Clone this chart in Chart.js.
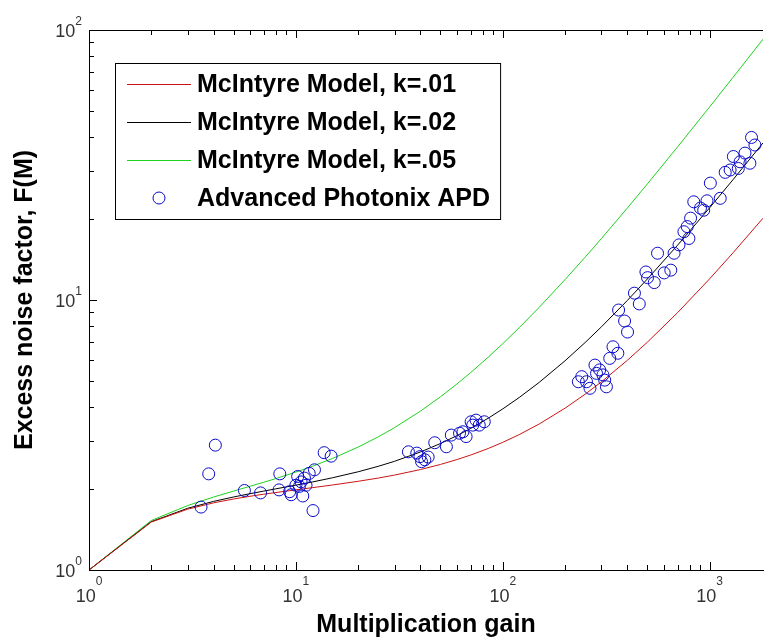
<!DOCTYPE html>
<html>
<head>
<meta charset="utf-8">
<script src="https://cdn.jsdelivr.net/npm/chart.js@4.4.1/dist/chart.umd.min.js"></script>
<style>
  html, body { margin: 0; padding: 0; background: #fff; }
  #wrap { width: 770px; height: 643px; }
</style>
</head>
<body>
<div id="wrap"><canvas id="noise-chart"></canvas></div>
<script>
// McIntyre model, F(M) sampled along the gain axis
const modelGain = [1, 2, 3, 4, 5, 6, 7, 8, 10, 12, 15, 20, 25, 30, 40, 50, 60, 70, 85, 100, 120, 150, 200, 250, 300, 400, 500, 700, 1000, 1300, 1811];
const modelK01 = [1.00, 1.505, 1.680, 1.773, 1.832, 1.875, 1.909, 1.936, 1.981, 2.018, 2.064, 2.131, 2.190, 2.247, 2.355, 2.460, 2.564, 2.666, 2.818, 2.970, 3.172, 3.473, 3.975, 4.476, 4.977, 5.978, 6.978, 8.979, 11.98, 14.98, 20.09];
const modelK02 = [1.00, 1.510, 1.693, 1.795, 1.864, 1.917, 1.960, 1.998, 2.062, 2.118, 2.195, 2.311, 2.421, 2.527, 2.736, 2.940, 3.144, 3.346, 3.648, 3.950, 4.352, 4.953, 5.955, 6.956, 7.957, 9.958, 11.96, 15.96, 21.96, 27.96, 38.18];
const modelK05 = [1.00, 1.525, 1.733, 1.863, 1.960, 2.042, 2.114, 2.181, 2.305, 2.421, 2.587, 2.853, 3.112, 3.368, 3.876, 4.381, 4.884, 5.386, 6.139, 6.891, 7.892, 9.394, 11.90, 14.40, 16.90, 21.90, 26.90, 36.90, 51.90, 66.90, 92.45];

// measured excess noise of the Advanced Photonix APD
const apdGain = [
  3.48, 3.79, 4.08, 5.64, 6.75, 8.36, 8.29, 9.33, 9.49, 10.8, 12.1, 13.7, 14.8,
  10.2, 10.6, 11.0, 11.6, 12.3, 10.0, 11.2, 10.4,
  35.0, 38.4, 39.8, 42.0, 43.6, 40.5, 46.9, 53.4, 56.4, 61.8, 66.5, 64.2, 70.3, 74.3, 77.0, 81.4, 71.6,
  232, 241, 254, 264, 279, 294, 284, 305, 317, 311, 329, 341, 360,
  363, 388, 401, 457, 433, 501, 492, 540, 560, 603, 649, 673, 711, 751, 794, 809, 779,
  838, 903, 971, 936, 1008, 1125, 1189, 1256, 1302, 1376, 1482, 1565, 1594, 1655, 1403
];
const apdNoise = [
  1.71, 2.27, 2.90, 1.97, 1.93, 2.27, 1.98, 1.95, 1.90, 1.88, 1.66, 2.72, 2.64,
  2.22, 2.12, 2.19, 2.28, 2.35, 2.06, 2.06, 2.04,
  2.74, 2.71, 2.63, 2.56, 2.62, 2.52, 2.96, 2.86, 3.16, 3.21, 3.12, 3.25, 3.54, 3.59, 3.44, 3.54, 3.44,
  4.98, 5.20, 4.98, 4.71, 5.74, 5.51, 5.35, 5.28, 4.77, 5.05, 6.08, 6.71, 6.35,
  9.18, 8.36, 7.61, 9.67, 10.6, 12.1, 12.7, 11.6, 14.9, 12.6, 12.9, 14.9, 16.0, 17.9, 16.9, 20.1, 18.7,
  23.1, 21.9, 23.3, 21.5, 27.1, 23.8, 29.7, 30.3, 34.0, 30.7, 35.0, 32.1, 40.0, 37.5, 32.5
];

// decade exponents that get a "10^n" label
const xDecades = [0, 1, 2, 3];
const yDecades = [0, 1, 2];

const FONT = '"Liberation Sans", Arial, Helvetica, sans-serif';
Chart.defaults.font.family = FONT;

function points(xs, ys) {
  return xs.map(function(x, i) { return { x: x, y: ys[i] }; });
}

function modelSet(label, color, values) {
  return {
    label: label,
    data: points(modelGain, values),
    showLine: true,
    borderColor: color,
    borderWidth: 1,
    pointRadius: 0,
    tension: 0,
    order: 1
  };
}

// inward ticks on every edge, the top border line, and 10^n labels
const logAxisDecor = {
  id: 'logAxisDecor',
  afterDraw(chart) {
    const ctx = chart.ctx;
    const area = chart.chartArea;
    const x = chart.scales.x;
    const y = chart.scales.y;
    ctx.save();
    ctx.strokeStyle = '#000';
    ctx.lineWidth = 1;
    ctx.beginPath();
    ctx.moveTo(area.left, Math.round(area.top) + 0.5);
    ctx.lineTo(area.right, Math.round(area.top) + 0.5);

    for (let d = 0; d <= 3; d++) {
      for (let m = 1; m <= 9; m++) {
        const v = m * Math.pow(10, d);
        if (v < x.min || v > x.max) continue;
        const px = Math.round(x.getPixelForValue(v)) + 0.5;
        const len = m === 1 ? 8 : 5;
        ctx.moveTo(px, area.bottom);
        ctx.lineTo(px, area.bottom - len);
        ctx.moveTo(px, area.top);
        ctx.lineTo(px, area.top + len);
      }
    }
    for (let d = 0; d <= 2; d++) {
      for (let m = 1; m <= 9; m++) {
        const v = m * Math.pow(10, d);
        if (v < y.min || v > y.max) continue;
        const py = Math.round(y.getPixelForValue(v)) + 0.5;
        const len = m === 1 ? 8 : 5;
        ctx.moveTo(area.left, py);
        ctx.lineTo(area.left + len, py);
      }
    }
    ctx.stroke();

    ctx.fillStyle = '#333';
    ctx.textBaseline = 'alphabetic';
    ctx.textAlign = 'left';
    const base = '18px ' + FONT;
    const sup = '12px ' + FONT;

    xDecades.forEach(function(d) {
      const px = x.getPixelForValue(Math.pow(10, d));
      ctx.font = base;
      const w1 = ctx.measureText('10').width;
      ctx.font = sup;
      const w2 = ctx.measureText(String(d)).width;
      const start = px - (w1 + w2) / 2;
      ctx.font = base;
      ctx.fillText('10', start, area.bottom + 32);
      ctx.font = sup;
      ctx.fillText(String(d), start + w1, area.bottom + 15);
    });

    yDecades.forEach(function(d) {
      const py = y.getPixelForValue(Math.pow(10, d));
      ctx.font = base;
      const w1 = ctx.measureText('10').width;
      ctx.font = sup;
      const w2 = ctx.measureText(String(d)).width;
      const start = area.left - 7 - (w1 + w2);
      ctx.font = base;
      ctx.fillText('10', start, py + 7);
      ctx.font = sup;
      ctx.fillText(String(d), start + w1, py - 5);
    });
    ctx.restore();
  }
};

// boxed legend in the upper left corner of the plot
const boxLegend = {
  id: 'boxLegend',
  afterDraw(chart) {
    const ctx = chart.ctx;
    const sets = chart.data.datasets;
    const left = 115, top = 63, rowH = 38, firstRow = 84;
    const sampleL = 127, sampleR = 191, textX = 197;
    ctx.save();
    ctx.font = 'bold 25px ' + FONT;
    let maxW = 0;
    sets.forEach(function(ds) { maxW = Math.max(maxW, ctx.measureText(ds.label).width); });
    const width = textX - left + maxW + 10;
    const height = firstRow - top + rowH * (sets.length - 1) + 21;

    ctx.fillStyle = '#fff';
    ctx.fillRect(left, top, width, height);
    ctx.strokeStyle = '#000';
    ctx.lineWidth = 1;
    ctx.strokeRect(left + 0.5, top + 0.5, width, height);

    sets.forEach(function(ds, i) {
      const ry = firstRow + i * rowH;
      ctx.strokeStyle = ds.borderColor;
      ctx.beginPath();
      if (ds.showLine) {
        ctx.moveTo(sampleL, ry + 0.5);
        ctx.lineTo(sampleR, ry + 0.5);
      } else {
        ctx.arc((sampleL + sampleR) / 2, ry, ds.pointRadius, 0, Math.PI * 2);
      }
      ctx.stroke();
      ctx.fillStyle = '#000';
      ctx.textBaseline = 'middle';
      ctx.fillText(ds.label, textX, ry + 1);
    });
    ctx.restore();
  }
};

const chart = new Chart(document.getElementById('noise-chart'), {
  type: 'scatter',
  data: {
    datasets: [
      modelSet('McIntyre Model, k=.01', 'rgb(205,20,20)', modelK01),
      modelSet('McIntyre Model, k=.02', '#000', modelK02),
      modelSet('McIntyre Model, k=.05', 'rgb(30,210,30)', modelK05),
      {
        label: 'Advanced Photonix APD',
        data: points(apdGain, apdNoise),
        showLine: false,
        pointStyle: 'circle',
        pointRadius: 6,
        pointBorderWidth: 1,
        borderColor: 'rgb(10,10,200)',
        backgroundColor: 'rgba(0,0,0,0)',
        order: 0
      }
    ]
  },
  options: {
    responsive: true,
    maintainAspectRatio: false,
    animation: false,
    events: [],
    layout: { padding: { top: 30, right: 0, bottom: 0, left: 0 } },
    plugins: {
      legend: { display: false },
      tooltip: { enabled: false }
    },
    scales: {
      x: {
        type: 'logarithmic',
        min: 1,
        max: 1811,
        grid: { display: false },
        border: { display: true, color: '#000', width: 1 },
        ticks: { display: false },
        title: {
          display: true,
          text: 'Multiplication gain',
          color: '#000',
          font: { size: 25, weight: 'bold' },
          padding: { top: 0, bottom: 3 }
        },
        afterFit: function(scale) { scale.height = 73; }
      },
      y: {
        type: 'logarithmic',
        min: 1,
        max: 100,
        grid: { display: false },
        border: { display: true, color: '#000', width: 1 },
        ticks: { display: false },
        title: {
          display: true,
          text: 'Excess noise factor, F(M)',
          color: '#000',
          font: { size: 25, weight: 'bold' },
          padding: { top: 10, bottom: 0 }
        },
        afterFit: function(scale) { scale.width = 89; }
      }
    }
  },
  plugins: [logAxisDecor, boxLegend]
});
</script>
</body>
</html>
